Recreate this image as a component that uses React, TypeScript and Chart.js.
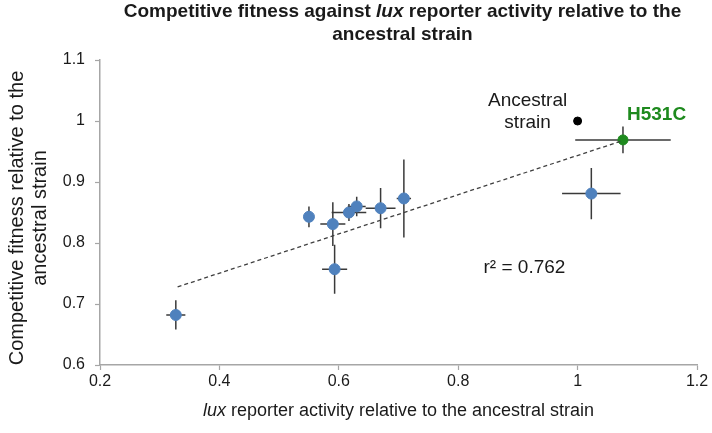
import React, { useEffect, useRef } from "react";
import { Chart, registerables } from "chart.js";

Chart.register(...registerables);

// Mutant strains (blue)
const luxActivity = [0.327, 0.55, 0.59, 0.593, 0.617, 0.63, 0.67, 0.709, 1.023];
const fitness = [0.682, 0.843, 0.831, 0.757, 0.85, 0.86, 0.857, 0.873, 0.881];
const luxError = [0.016, 0.006, 0.021, 0.021, 0.029, 0.015, 0.025, 0.012, 0.049];
const fitnessError = [0.024, 0.017, 0.036, 0.04, 0.014, 0.016, 0.033, 0.064, 0.042];

// H531C (green)
const h531cLux = [1.076];
const h531cFitness = [0.969];
const h531cLuxError = [0.08];
const h531cFitnessError = [0.022];

// Ancestral strain (black)
const ancestralLux = [1.0];
const ancestralFitness = [1.0];

// Linear trend line end points
const trendLux = [0.33, 1.076];
const trendFitness = [0.728, 0.968];

const xTicks = [0.2, 0.4, 0.6, 0.8, 1, 1.2];
const yTicks = [0.6, 0.7, 0.8, 0.9, 1, 1.1];
const rSquaredLabel = "r² = 0.762";
const rSquaredPos = [0.911, 0.759];

const BLUE = "#4f81bd";
const GREEN = "#1e8a1e";
const AXIS = "#a6a6a6";
const TEXT = "#1a1a1a";
const FAM = "'Liberation Sans', Arial, sans-serif";

type Seg = { t: string; f: string };

function drawRich(ctx: CanvasRenderingContext2D, segs: Seg[], x: number, y: number) {
  let total = 0;
  for (const s of segs) {
    ctx.font = s.f;
    total += ctx.measureText(s.t).width;
  }
  let cx = x - total / 2;
  ctx.textAlign = "left";
  for (const s of segs) {
    ctx.font = s.f;
    ctx.fillText(s.t, cx, y);
    cx += ctx.measureText(s.t).width;
  }
}

const overlay = {
  id: "overlay",
  beforeDatasetsDraw(chart: any) {
    const ctx = chart.ctx as CanvasRenderingContext2D;
    const xs = chart.scales.x;
    const ys = chart.scales.y;
    ctx.save();
    ctx.strokeStyle = "#3a3a3a";
    ctx.lineWidth = 1.5;
    const bars = (px: number[], py: number[], ex: number[], ey: number[]) => {
      for (let i = 0; i < px.length; i++) {
        const x0 = xs.getPixelForValue(px[i] - ex[i]);
        const x1 = xs.getPixelForValue(px[i] + ex[i]);
        const y0 = ys.getPixelForValue(py[i] - ey[i]);
        const y1 = ys.getPixelForValue(py[i] + ey[i]);
        const cx = xs.getPixelForValue(px[i]);
        const cy = ys.getPixelForValue(py[i]);
        ctx.beginPath();
        ctx.moveTo(x0, cy);
        ctx.lineTo(x1, cy);
        ctx.moveTo(cx, y0);
        ctx.lineTo(cx, y1);
        ctx.stroke();
      }
    };
    bars(luxActivity, fitness, luxError, fitnessError);
    bars(h531cLux, h531cFitness, h531cLuxError, h531cFitnessError);
    ctx.restore();
  },
  afterDraw(chart: any) {
    const ctx = chart.ctx as CanvasRenderingContext2D;
    const xs = chart.scales.x;
    const ys = chart.scales.y;
    const area = chart.chartArea;
    ctx.save();
    ctx.fillStyle = TEXT;
    ctx.textBaseline = "middle";
    // Title
    const tb = `bold 19px ${FAM}`;
    const tbi = `italic bold 19px ${FAM}`;
    const cx = (area.left + area.right) / 2 + 4;
    drawRich(ctx, [
      { t: "Competitive fitness against ", f: tb },
      { t: "lux", f: tbi },
      { t: " reporter activity relative to the", f: tb },
    ], cx, 12);
    drawRich(ctx, [{ t: "ancestral strain", f: tb }], cx, 35);

    // X axis title
    const xf = `18px ${FAM}`;
    const xfi = `italic 18px ${FAM}`;
    drawRich(ctx, [
      { t: "lux", f: xfi },
      { t: " reporter activity relative to the ancestral strain", f: xf },
    ], (area.left + area.right) / 2, 411);

    // Y axis title
    const yf = `20px ${FAM}`;
    const ymid = 218;
    ctx.save();
    ctx.translate(17, ymid);
    ctx.rotate(-Math.PI / 2);
    drawRich(ctx, [{ t: "Competitive fitness relative to the", f: yf }], 0, 0);
    ctx.restore();
    ctx.save();
    ctx.translate(40, ymid);
    ctx.rotate(-Math.PI / 2);
    drawRich(ctx, [{ t: "ancestral strain", f: yf }], 0, 0);
    ctx.restore();

    // Annotations
    ctx.font = `19px ${FAM}`;
    ctx.textAlign = "center";
    const ax = xs.getPixelForValue(ancestralLux[0]);
    const ay = ys.getPixelForValue(ancestralFitness[0]);
    ctx.fillText("Ancestral", ax - 50, ay - 20);
    ctx.fillText("strain", ax - 50, ay + 2);

    ctx.fillStyle = GREEN;
    ctx.font = `bold 19px ${FAM}`;
    ctx.textAlign = "left";
    const hx = xs.getPixelForValue(h531cLux[0]);
    const hy = ys.getPixelForValue(h531cFitness[0]);
    ctx.fillText("H531C", hx + 4, hy - 25);

    ctx.fillStyle = TEXT;
    ctx.font = `19px ${FAM}`;
    ctx.textAlign = "center";
    ctx.fillText(rSquaredLabel, xs.getPixelForValue(rSquaredPos[0]), ys.getPixelForValue(rSquaredPos[1]));
    ctx.restore();
  },
};

export default function App() {
  const ref = useRef<HTMLCanvasElement>(null);
  useEffect(() => {
    document.body.style.margin = "0";
    const canvas = ref.current!;
    const tickFont = { family: FAM, size: 16 };
    const chart = new Chart(canvas, {
      type: "scatter",
      data: {
        datasets: [
          {
            type: "line",
            data: trendLux.map((x, i) => ({ x, y: trendFitness[i] })),
            borderColor: "#404040",
            borderWidth: 1.3,
            borderDash: [4, 3],
            pointRadius: 0,
            fill: false,
          } as any,
          {
            data: luxActivity.map((x, i) => ({ x, y: fitness[i] })),
            backgroundColor: BLUE,
            borderColor: BLUE,
            pointRadius: 5.5,
          },
          {
            data: h531cLux.map((x, i) => ({ x, y: h531cFitness[i] })),
            backgroundColor: GREEN,
            borderColor: GREEN,
            pointRadius: 5,
          },
          {
            data: ancestralLux.map((x, i) => ({ x, y: ancestralFitness[i] })),
            backgroundColor: "#000",
            borderColor: "#000",
            pointRadius: 4,
          },
        ],
      },
      options: {
        animation: false,
        responsive: false,
        layout: { padding: { left: 0, right: 15, top: 60, bottom: 0 } },
        plugins: { legend: { display: false }, tooltip: { enabled: false }, title: { display: false } },
        scales: {
          x: {
            type: "linear",
            min: 0.2,
            max: 1.2,
            afterBuildTicks: (s: any) => { s.ticks = xTicks.map((v) => ({ value: v })); },
            afterFit: (s: any) => { s.height = 68; },
            grid: { display: true, drawOnChartArea: false, drawTicks: true, tickLength: 5, tickColor: AXIS, tickWidth: 1.2 },
            border: { color: AXIS, width: 1.5 },
            ticks: { color: TEXT, font: tickFont, padding: 2, callback: (v: any) => String(v) },
          },
          y: {
            type: "linear",
            min: 0.6,
            max: 1.1,
            afterBuildTicks: (s: any) => { s.ticks = yTicks.map((v) => ({ value: v })); },
            afterFit: (s: any) => { s.width = 100; },
            grid: { display: true, drawOnChartArea: false, drawTicks: true, tickLength: 5, tickColor: AXIS, tickWidth: 1.2 },
            border: { color: AXIS, width: 1.5 },
            ticks: { color: TEXT, font: tickFont, padding: 10, callback: (v: any) => String(v) },
          },
        },
      },
      plugins: [overlay],
    });
    return () => chart.destroy();
  }, []);
  return (
    <div style={{ position: "absolute", left: 0, top: 0, width: 712, height: 433, background: "#fff" }}>
      <canvas ref={ref} width={712} height={433} />
    </div>
  );
}
